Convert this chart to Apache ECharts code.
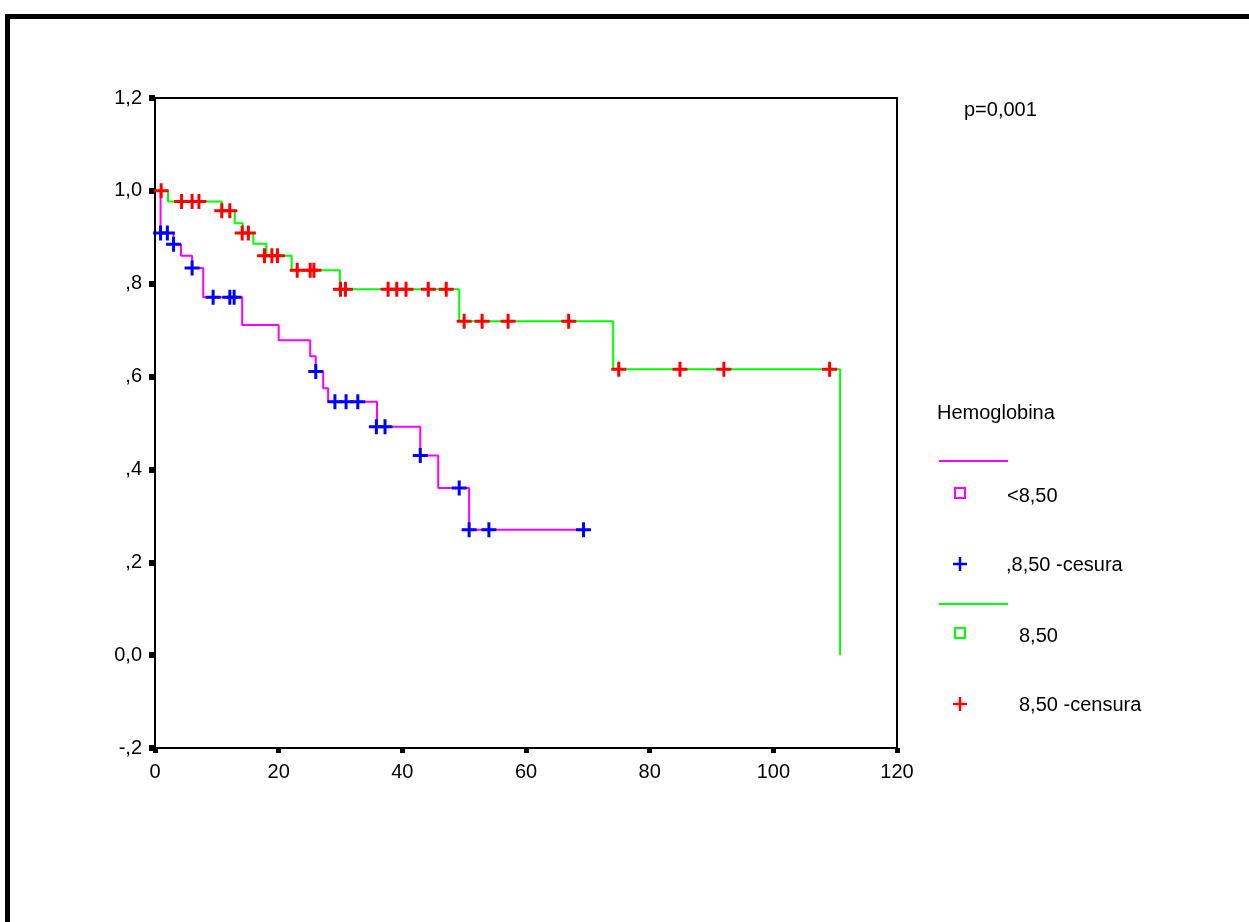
<!DOCTYPE html>
<html>
<head>
<meta charset="utf-8">
<script src="https://cdn.jsdelivr.net/npm/echarts@6/dist/echarts.min.js"></script>
<style>
html,body{margin:0;padding:0;background:#fff;}
#chart{width:1249px;height:922px;}
</style>
</head>
<body>
<div id="chart"></div>
<script>
// ---- data ----
const xTickLabels = ['0', '20', '40', '60', '80', '100', '120'];
const yTickLabels = ['-,2', '0,0', ',2', ',4', ',6', ',8', '1,0', '1,2'];

// Group "<8,50" (pink line, blue censors)
const lowStepTimes = [0, 0.9, 3.0, 4.2, 6.0, 7.8, 14.1, 20.0, 25.1, 26.0, 27.2, 28.0, 35.9, 42.9, 45.8, 50.8, 69.3];
const lowStepSurv  = [1.0, 0.909, 0.885, 0.860, 0.834, 0.771, 0.711, 0.678, 0.644, 0.611, 0.575, 0.546, 0.492, 0.430, 0.360, 0.270, 0.270];
const lowCensorTimes = [0.9, 2.0, 3.0, 6.0, 9.4, 12.1, 12.8, 26.0, 29.1, 30.9, 32.8, 35.8, 37.2, 42.9, 49.2, 50.8, 54.0, 69.3];
const lowCensorSurv  = [0.909, 0.909, 0.885, 0.834, 0.771, 0.771, 0.771, 0.611, 0.546, 0.546, 0.546, 0.492, 0.492, 0.430, 0.360, 0.270, 0.270, 0.270];

// Group "8,50" (green line, red censors)
const highStepTimes = [0, 2.1, 10.8, 12.9, 14.2, 15.9, 18.0, 22.1, 29.9, 49.2, 74.1, 110.8];
const highStepSurv  = [1.0, 0.977, 0.957, 0.930, 0.909, 0.886, 0.860, 0.829, 0.788, 0.719, 0.616, 0.0];
const highCensorTimes = [1.0, 4.3, 6.0, 7.1, 10.8, 12.1, 14.1, 15.1, 17.7, 18.9, 19.8, 23.0, 25.1, 25.7, 30.0, 30.8, 37.7, 39.1, 40.6, 44.2, 47.1, 50.0, 52.9, 57.1, 66.9, 75.0, 84.9, 92.0, 109.1];
const highCensorSurv  = [1.0, 0.977, 0.977, 0.977, 0.957, 0.957, 0.909, 0.909, 0.860, 0.860, 0.860, 0.829, 0.829, 0.829, 0.788, 0.788, 0.788, 0.788, 0.788, 0.788, 0.788, 0.719, 0.719, 0.719, 0.719, 0.616, 0.616, 0.616, 0.616];

const legendTitle = 'Hemoglobina';
const legendLabels = ['<8,50', ',8,50 -cesura', '8,50', '8,50 -censura'];
const pText = 'p=0,001';

// ---- build ----
const zip = (a, b) => a.map((v, i) => [v, b[i]]);
const PLUS = 'path://M0,4L4,4L4,0L6,0L6,4L10,4L10,6L6,6L6,10L4,10L4,6L0,6Z';
const FONT = '"Liberation Sans", Arial, sans-serif';
const txt = (x, y, s) => ({type: 'text', x: x, y: y,
  style: {text: s, font: '20px ' + FONT, fill: '#000', textVerticalAlign: 'middle'}});
const plus = (cx, cy, c) => [
  {type: 'line', shape: {x1: cx - 7, y1: cy, x2: cx + 7, y2: cy}, style: {stroke: c, lineWidth: 2.5}},
  {type: 'line', shape: {x1: cx, y1: cy - 7, x2: cx, y2: cy + 7}, style: {stroke: c, lineWidth: 2.5}}
];

const chart = echarts.init(document.getElementById('chart'), null, {renderer: 'canvas'});

const option = {
  animation: false,
  backgroundColor: '#fff',
  grid: {
    show: true, left: 155, top: 98, width: 742, height: 650,
    borderColor: '#000', borderWidth: 2, backgroundColor: 'transparent'
  },
  xAxis: {
    type: 'value', min: 0, max: 120, interval: 20,
    axisLine: {show: false, onZero: false},
    axisTick: {show: true, length: 5, lineStyle: {color: '#000', width: 5}},
    splitLine: {show: false},
    axisLabel: {
      color: '#000', fontSize: 20, fontFamily: FONT, margin: 14,
      formatter: v => xTickLabels[Math.round(v / 20)]
    }
  },
  yAxis: {
    type: 'value', min: -0.2, max: 1.2, interval: 0.2,
    axisLine: {show: false, onZero: false},
    axisTick: {show: true, length: 6, lineStyle: {color: '#000', width: 6}},
    splitLine: {show: false},
    axisLabel: {
      color: '#000', fontSize: 20, fontFamily: FONT, margin: 13,
      formatter: v => yTickLabels[Math.round((v + 0.2) / 0.2)]
    }
  },
  series: [
    {
      name: '<8,50', type: 'line', step: 'end', showSymbol: false,
      data: zip(lowStepTimes, lowStepSurv),
      lineStyle: {color: '#FF00FF', width: 2}, z: 2
    },
    {
      name: '8,50', type: 'line', step: 'end', showSymbol: false,
      data: zip(highStepTimes, highStepSurv),
      lineStyle: {color: '#00FF00', width: 2}, z: 2
    },
    {
      name: ',8,50 -cesura', type: 'scatter', symbol: PLUS, symbolSize: 15,
      data: zip(lowCensorTimes, lowCensorSurv),
      itemStyle: {color: '#0000FF', opacity: 1}, z: 3
    },
    {
      name: '8,50 -censura', type: 'scatter', symbol: PLUS, symbolSize: 15,
      data: zip(highCensorTimes, highCensorSurv),
      itemStyle: {color: '#FF0000', opacity: 1}, z: 3
    }
  ],
  graphic: [
    {type: 'rect', shape: {x: 7.5, y: 16.5, width: 1400, height: 1100},
     style: {fill: 'none', stroke: '#000', lineWidth: 5}, silent: true},
    txt(964, 110, pText),
    txt(937, 413, legendTitle),
    {type: 'line', shape: {x1: 939, y1: 461, x2: 1008, y2: 461}, style: {stroke: '#FF00FF', lineWidth: 2}},
    {type: 'rect', shape: {x: 955, y: 488, width: 10, height: 10}, style: {fill: 'none', stroke: '#FF00FF', lineWidth: 2}},
    txt(1007, 496, legendLabels[0]),
    ...plus(960, 564, '#0000FF'),
    txt(1006, 565, legendLabels[1]),
    {type: 'line', shape: {x1: 939, y1: 604, x2: 1008, y2: 604}, style: {stroke: '#00FF00', lineWidth: 2}},
    {type: 'rect', shape: {x: 955, y: 628, width: 10, height: 10}, style: {fill: 'none', stroke: '#00FF00', lineWidth: 2}},
    txt(1019, 636, legendLabels[2]),
    ...plus(960, 704, '#FF0000'),
    txt(1019, 705, legendLabels[3])
  ]
};
chart.setOption(option);
</script>
</body>
</html>
